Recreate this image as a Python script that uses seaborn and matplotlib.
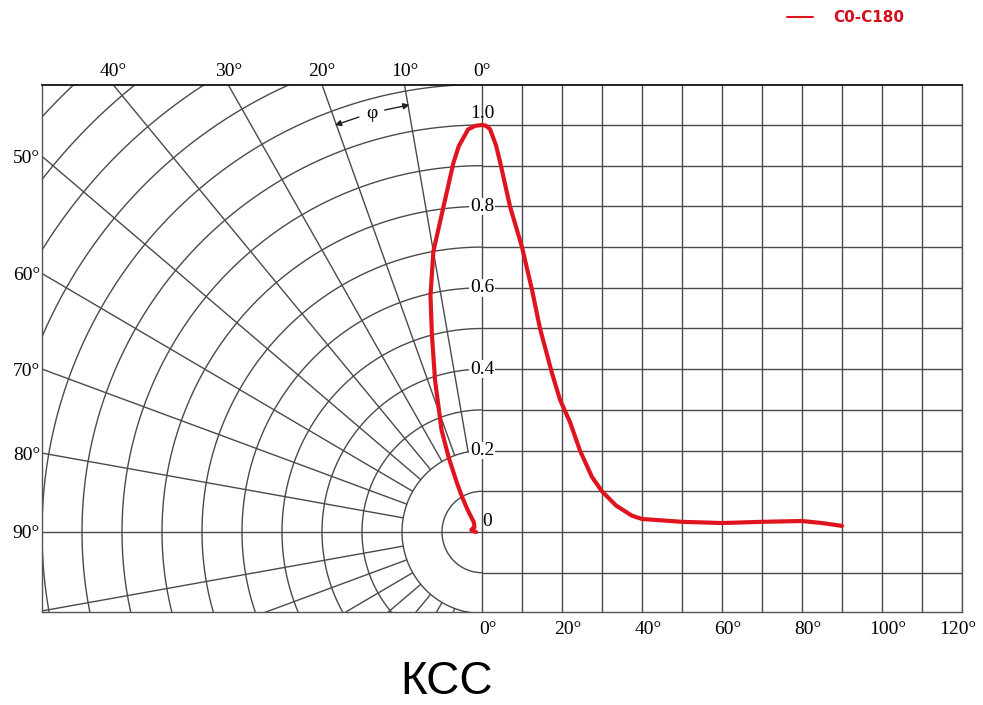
import numpy as np
import pandas as pd
import matplotlib
matplotlib.use("Agg")
import matplotlib.pyplot as plt
from matplotlib.lines import Line2D
import seaborn as sns

# ---------------- data ----------------
series_name = "C0-C180"
angles = [0, 1, 2, 3.5, 4.5, 7, 10, 12.5, 14.5, 17.5, 19.5, 22, 24.5, 27.5, 30,
          33.5, 37.5, 40, 50, 60, 70, 80, 85, 90]
intensity = [1.0, 0.998, 0.99, 0.95, 0.91, 0.80, 0.70, 0.595, 0.50, 0.39, 0.325,
             0.27, 0.20, 0.135, 0.10, 0.065, 0.04, 0.032, 0.025, 0.022, 0.025,
             0.027, 0.022, 0.015]
bottom_ticks = [0, 20, 40, 60, 80, 100, 120]
top_ticks = [0, 10, 20, 30, 40]
left_ticks = [50, 60, 70, 80, 90]
value_ticks = [0.2, 0.4, 0.6, 0.8]
title = "КСС"

# ---------------- figure ----------------
sns.set_style("white")
plt.rcParams["font.family"] = ["Liberation Serif", "DejaVu Serif"]
plt.rcParams["text.color"] = "black"

W, H = 983, 705
fig = plt.figure(figsize=(W / 100, H / 100), dpi=100)
ax = fig.add_axes([42 / W, (H - 612) / H, 920 / W, 527 / H])
XL = (-110, 120)
YL = (-80 / 407, 447 / 407)
RX = 100.0  # x-units per unit of intensity in the polar half
ax.set_xlim(*XL)
ax.set_ylim(*YL)
ax.set_xticks([])
ax.set_yticks([])

gc = "#4a4a4a"
glw = 1.0

# polar grid (left half): arcs
th = np.linspace(0, np.pi, 600)
for r in np.arange(0.1, 1.51, 0.1):
    ax.plot(-r * np.sin(th) * RX, r * np.cos(th), color=gc, lw=glw, zorder=1)
# radial lines
for d in range(10, 180, 10):
    if d == 90:
        continue
    t = np.deg2rad(d)
    rr = np.array([0.2, 3.0])
    ax.plot(-rr * np.sin(t) * RX, rr * np.cos(t), color=gc, lw=glw, zorder=1)
# axes lines
ax.plot([XL[0], XL[1]], [0, 0], color=gc, lw=glw, zorder=1)
# cartesian grid (right half)
for xv in range(0, 121, 10):
    ax.plot([xv, xv], [YL[0], YL[1]], color=gc, lw=glw, zorder=1)
for yv in np.arange(-0.1, 1.01, 0.1):
    if abs(yv) < 1e-9:
        continue
    ax.plot([0, 120], [yv, yv], color=gc, lw=glw, zorder=1)

for s in ["left", "right", "bottom"]:
    ax.spines[s].set_color("#555555")
    ax.spines[s].set_linewidth(1.0)
ax.spines["top"].set_color("#111111")
ax.spines["top"].set_linewidth(1.3)

# ---------------- curves ----------------
red = "#e0141e"
cart = pd.DataFrame({"x": angles, "y": intensity})
sns.lineplot(data=cart, x="x", y="y", ax=ax, sort=False, estimator=None,
             color=red, lw=3.0, zorder=5)
tr = np.deg2rad(np.array(angles))
pol = pd.DataFrame({"x": -np.array(intensity) * np.sin(tr) * RX,
                    "y": np.array(intensity) * np.cos(tr)})
sns.lineplot(data=pol, x="x", y="y", ax=ax, sort=False, estimator=None,
             color=red, lw=3.0, zorder=5)
ax.set_xlabel("")
ax.set_ylabel("")

# ---------------- labels ----------------
fs = 14
py = 1 / 407.0  # one pixel in y data units
for t in top_ticks:
    x = -YL[1] * np.tan(np.deg2rad(t)) * RX
    ax.text(x, YL[1] + 14 * py, f"{t}°", ha="center", va="center",
            fontsize=fs, clip_on=False, color="black")
for t in left_ticks:
    y = (-XL[0] / RX) * np.cos(np.deg2rad(t)) / np.sin(np.deg2rad(t))
    ax.text(XL[0] - 0.5, y - 2 * py, f"{t}°", ha="right", va="center",
            fontsize=fs, clip_on=False, color="black")
for t in bottom_ticks:
    off = 1.5 if t < 120 else -1.0
    ax.text(t + off, YL[0] - 17 * py, f"{t}°", ha="center", va="center",
            fontsize=fs, clip_on=False, color="black")
for v in value_ticks:
    ax.text(0, v, f"{v:.1f}", ha="center", va="center", fontsize=fs,
            zorder=3, color="black",
            bbox=dict(facecolor="white", edgecolor="none", pad=0.3))
ax.text(0, 1.0 + 12 * py, "1.0", ha="center", va="center", fontsize=fs,
        zorder=3, color="black")
ax.text(1.3, 10 * py, "0", ha="center", va="center", fontsize=fs, zorder=3,
        color="black")

# phi annotation between 10° and 20° radial lines
rphi = 1.065
tm = np.deg2rad(15)
ax.text(-rphi * np.sin(tm) * RX, rphi * np.cos(tm), "φ", ha="center",
        va="center", fontsize=fs, zorder=3, color="black",
        bbox=dict(facecolor="white", edgecolor="none", pad=0.5))
for a0, a1 in [(16.8, 20.2), (13.2, 9.8)]:
    t0, t1 = np.deg2rad(a0), np.deg2rad(a1)
    ax.annotate("", xy=(-rphi * np.sin(t1) * RX, rphi * np.cos(t1)),
                xytext=(-rphi * np.sin(t0) * RX, rphi * np.cos(t0)),
                arrowprops=dict(arrowstyle="-|>", color="#222222", lw=1.0,
                                mutation_scale=9, shrinkA=0, shrinkB=0),
                zorder=3)

# legend
fig.add_artist(Line2D([787 / W, 813 / W], [1 - 17 / H, 1 - 17 / H],
                      color=red, lw=1.5))
fig.text(833 / W, 1 - 17 / H, series_name, color="#d4101c", fontsize=11,
         fontweight="bold", family=["DejaVu Sans"], ha="left", va="center")

# title
fig.text(447 / W, 1 - 682 / H, title, fontsize=33, color="black",
         family=["Liberation Sans", "DejaVu Sans"], ha="center", va="center")

fig.savefig("out.png", dpi=100, facecolor="white")
